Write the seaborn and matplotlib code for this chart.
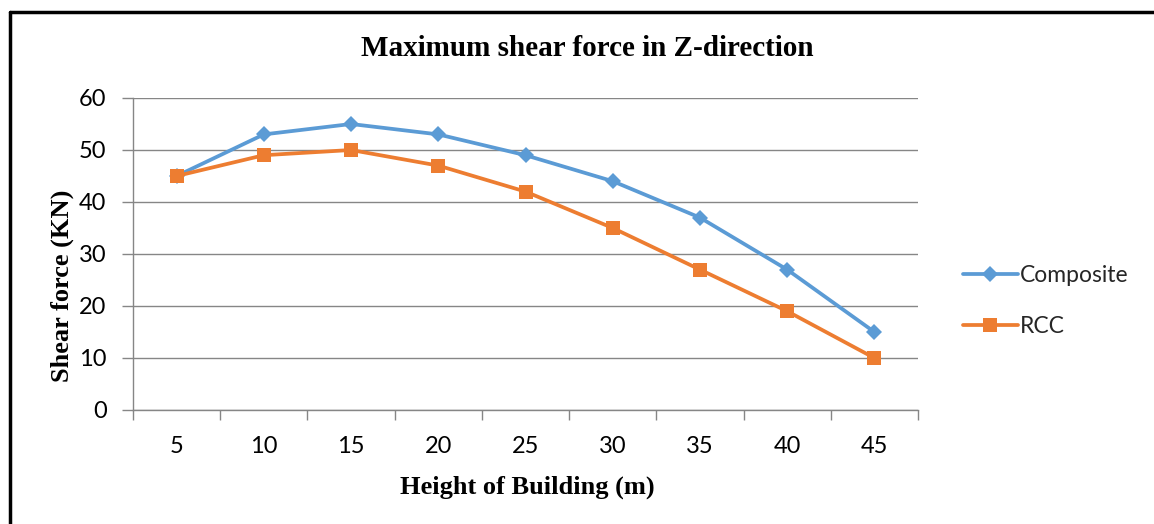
import matplotlib
matplotlib.use("Agg")
import matplotlib.pyplot as plt
from matplotlib.lines import Line2D
import numpy as np
import pandas as pd
import seaborn as sns

heights = [5, 10, 15, 20, 25, 30, 35, 40, 45]
composite = [45, 53, 55, 53, 49, 44, 37, 27, 15]
rcc = [45, 49, 50, 47, 42, 35, 27, 19, 10]
y_ticks = [0, 10, 20, 30, 40, 50, 60]

BLUE = "#5B9BD5"
ORANGE = "#ED7D31"
GRID = "#868686"

sns.set_theme(style="white")
plt.rcParams["font.family"] = ["Lato", "DejaVu Sans"]

df = pd.DataFrame({
    "height": heights * 2,
    "force": composite + rcc,
    "series": ["Composite"] * len(heights) + ["RCC"] * len(heights),
})

fig = plt.figure(figsize=(11.54, 5.24), dpi=100)
ax = fig.add_axes([133 / 1154, 114 / 524, (918 - 133) / 1154, 312 / 524])

sns.lineplot(
    data=df, x="height", y="force", hue="series", style="series",
    palette={"Composite": BLUE, "RCC": ORANGE},
    markers={"Composite": "D", "RCC": "s"}, dashes=False,
    markersize=9, linewidth=2.7, markeredgewidth=0, ax=ax, legend=False,
)
# diamonds a bit smaller than squares
for line in ax.lines:
    if line.get_marker() == "D":
        line.set_markersize(8)
    else:
        line.set_markersize(10.5)

ax.set_xlim(2.5, 47.5)
ax.set_ylim(0, 60)
ax.set_yticks(y_ticks)
ax.set_xticks(heights)
ax.set_xticks(np.arange(2.5, 50, 5), minor=True)
ax.tick_params(axis="x", which="major", length=0, pad=19, labelsize=17, colors="black")
ax.tick_params(axis="x", which="minor", length=7, width=1, color=GRID, direction="out", bottom=True)
ax.tick_params(axis="y", length=8, width=1, color=GRID, direction="out", left=True, pad=11,
               labelsize=17, colors="black")
ax.yaxis.grid(True, color=GRID, linewidth=1)
ax.set_axisbelow(True)
for side in ["top", "right"]:
    ax.spines[side].set_visible(False)
for side in ["left", "bottom"]:
    ax.spines[side].set_color(GRID)
    ax.spines[side].set_linewidth(1)
ax.set_xlabel("")
ax.set_ylabel("")

serif = ["Liberation Serif", "DejaVu Serif"]
fig.text(587 / 1154, 1 - 48 / 524, "Maximum shear force in Z-direction",
         ha="center", va="center", fontsize=21, fontweight="bold", family=serif, color="black")
fig.text(527 / 1154, 1 - 487 / 524, "Height of Building (m)",
         ha="center", va="center", fontsize=19, fontweight="bold", family=serif, color="black")
fig.text(62 / 1154, 1 - 286 / 524, "Shear force (KN)", rotation=90,
         ha="center", va="center", fontsize=19, fontweight="bold", family=serif, color="black")

handles = [
    Line2D([], [], color=BLUE, marker="D", markersize=8, markeredgewidth=0, linewidth=2.7),
    Line2D([], [], color=ORANGE, marker="s", markersize=10.5, markeredgewidth=0, linewidth=2.7),
]
fig.legend(handles, ["Composite", "RCC"], loc="center left",
           bbox_to_anchor=(942 / 1154, 1 - 301 / 524), frameon=False,
           fontsize=16.5, handlelength=2.4, handletextpad=0.1, labelspacing=1.35)

# frame lines along the top and left edges
fig.add_artist(Line2D([10 / 1154, 10 / 1154], [0, 1 - 12 / 524], color="black", linewidth=2.5,
                      transform=fig.transFigure))
fig.add_artist(Line2D([10 / 1154, 1], [1 - 12 / 524, 1 - 12 / 524], color="black", linewidth=2.5,
                      transform=fig.transFigure))

fig.savefig("out.png", dpi=100, facecolor="white")
